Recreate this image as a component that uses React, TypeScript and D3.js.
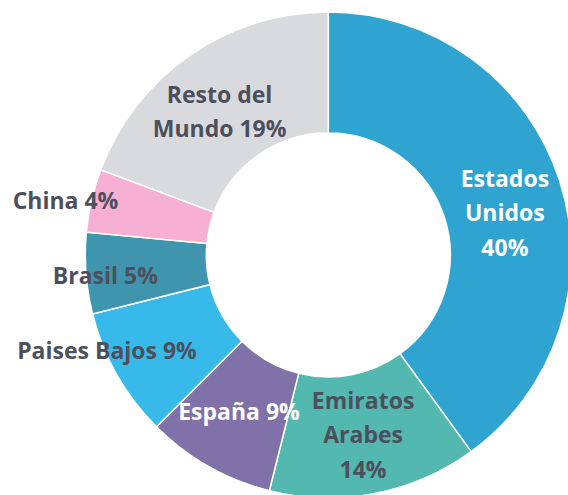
import React from "react";
import * as d3 from "d3";

const categories = ["Estados Unidos", "Emiratos Arabes", "España", "Paises Bajos", "Brasil", "China", "Resto del Mundo"];
const values = [40.0, 13.9, 8.6, 8.6, 5.4, 4.2, 19.3];
const labelLines = [
  ["Estados", "Unidos", "40%"],
  ["Emiratos", "Arabes", "14%"],
  ["España 9%"],
  ["Paises Bajos 9%"],
  ["Brasil 5%"],
  ["China 4%"],
  ["Resto del", "Mundo 19%"],
];
const colors = ["#2FA4D1", "#52B8B0", "#8071A8", "#37BAEA", "#3F95AE", "#F7AFD3", "#D9DADE"];
const labelColors = ["#FFFFFF", "#4D4F5C", "#FFFFFF", "#4D4F5C", "#4D4F5C", "#4D4F5C", "#4D4F5C"];
// label nudges relative to the arc centroid
const labelNudge: [number, number][] = [
  [3, 14.5],
  [0, 1],
  [0.6, -2.5],
  [-62.5, 5.4],
  [-41, 7],
  [-85, -13],
  [-4.7, 7],
];

const W = 568;
const H = 495;
const cx = 328.3;
const cy = 255;
const outerR = 243;
const innerR = 122;
const lineH = 34.5;
const fontSize = 23;

export default function App() {
  const pie = d3.pie<number>().sort(null).value((d) => d).startAngle(0).endAngle(2 * Math.PI);
  const arcs = pie(values);
  const arc = d3.arc<d3.PieArcDatum<number>>().innerRadius(innerR).outerRadius(outerR);

  return (
    <svg width={W} height={H} style={{ position: "absolute", left: 0, top: 0, background: "#fff" }}>
      <g transform={`translate(${cx},${cy})`}>
        {arcs.map((a, i) => (
          <path key={categories[i]} d={arc(a) || ""} fill={colors[i]} stroke="#fff" strokeWidth={1.5} />
        ))}
        {arcs.map((a, i) => {
          const [x, y] = arc.centroid(a);
          const lx = x + labelNudge[i][0];
          const ly = y + labelNudge[i][1];
          const lines = labelLines[i];
          const n = lines.length;
          return (
            <text
              key={"l" + i}
              x={lx}
              textAnchor="middle"
              fontFamily="'Open Sans', 'Noto Sans', sans-serif"
              fontWeight={700}
              fontSize={fontSize}
              fill={labelColors[i]}
            >
              {lines.map((t, j) => (
                <tspan key={j} x={lx} y={ly + (j - (n - 1) / 2) * lineH + 8.2}>
                  {t}
                </tspan>
              ))}
            </text>
          );
        })}
      </g>
    </svg>
  );
}
